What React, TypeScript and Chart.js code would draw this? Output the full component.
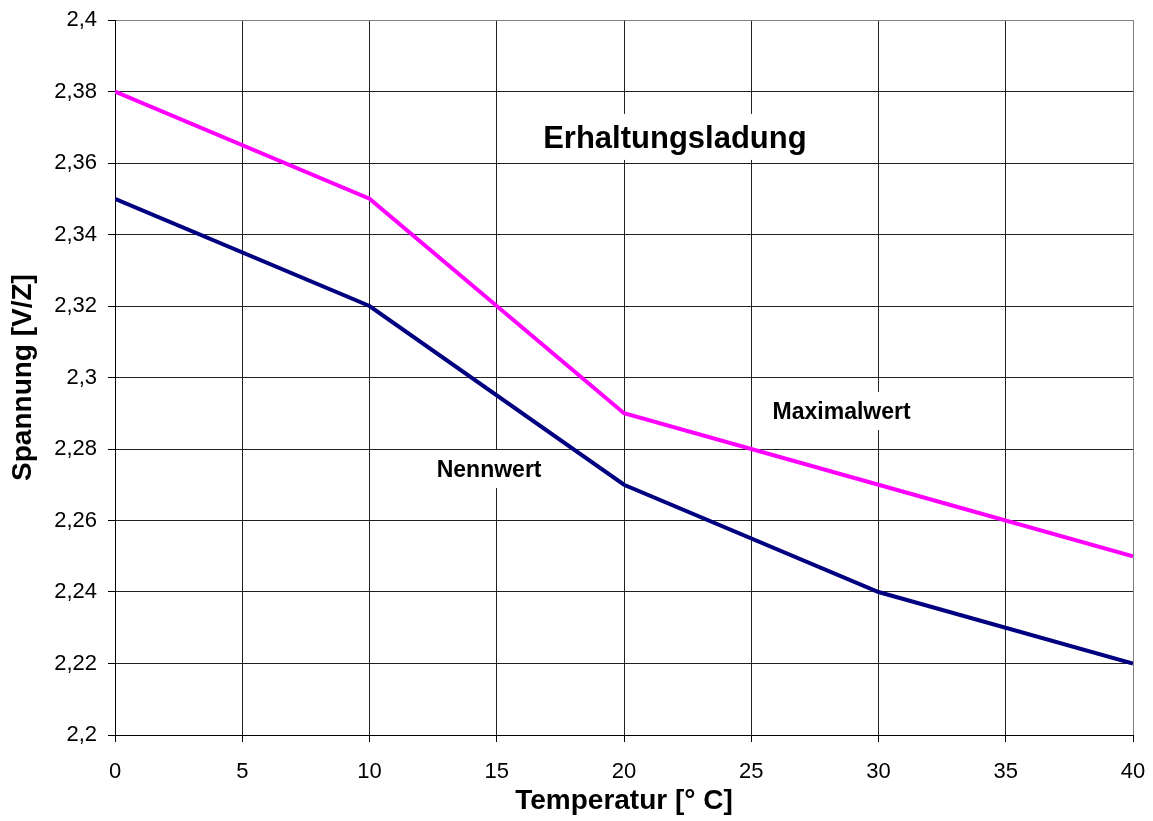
import React, { useEffect, useRef } from "react";
import { Chart, registerables } from "chart.js";

Chart.register(...registerables);

const temperatures = [0, 10, 20, 30, 40];
const maximalwert = [2.38, 2.35, 2.29, 2.27, 2.25];
const nennwert = [2.35, 2.32, 2.27, 2.24, 2.22];

const xTicks = [0, 5, 10, 15, 20, 25, 30, 35, 40];
const xTickLabels = ["0", "5", "10", "15", "20", "25", "30", "35", "40"];
const yTicks = [2.2, 2.22, 2.24, 2.26, 2.28, 2.3, 2.32, 2.34, 2.36, 2.38, 2.4];
const yTickLabels = ["2,2", "2,22", "2,24", "2,26", "2,28", "2,3", "2,32", "2,34", "2,36", "2,38", "2,4"];

const chartTitle = "Erhaltungsladung";
const xTitle = "Temperatur [° C]";
const yTitle = "Spannung [V/Z]";
const seriesNames = ["Maximalwert", "Nennwert"];

const FONT = "'Liberation Sans', Arial, Helvetica, sans-serif";

type Note = { text: string; x: number; y: number; size: number; boxH: number; padX: number };

const notes: Note[] = [
  { text: chartTitle, x: 22, y: 2.3673, size: 31, boxH: 46, padX: 10 },
  { text: seriesNames[0], x: 28.55, y: 2.2906, size: 23, boxH: 38, padX: 8 },
  { text: seriesNames[1], x: 14.7, y: 2.2744, size: 23, boxH: 38, padX: 8 },
];

const notesPlugin = {
  id: "notes",
  afterDatasetsDraw(chart: any) {
    const { ctx, scales } = chart;
    const xs = scales.x;
    const ys = scales.y;
    ctx.save();
    for (const n of notes) {
      const cx = xs.getPixelForValue(n.x);
      const cy = ys.getPixelForValue(n.y);
      ctx.font = `bold ${n.size}px ${FONT}`;
      const w = ctx.measureText(n.text).width;
      ctx.fillStyle = "#ffffff";
      ctx.fillRect(cx - w / 2 - n.padX, cy - n.boxH / 2, w + 2 * n.padX, n.boxH);
      ctx.fillStyle = "#000000";
      ctx.textAlign = "center";
      ctx.textBaseline = "alphabetic";
      ctx.fillText(n.text, cx, cy + 0.358 * n.size);
    }
    ctx.restore();
  },
};

export default function App() {
  const canvasRef = useRef<HTMLCanvasElement | null>(null);

  useEffect(() => {
    if (!canvasRef.current) return;
    const chart = new Chart(canvasRef.current, {
      type: "line",
      data: {
        datasets: [
          {
            label: seriesNames[0],
            data: temperatures.map((t, i) => ({ x: t, y: maximalwert[i] })),
            borderColor: "#FF00FF",
            backgroundColor: "#FF00FF",
            borderWidth: 4,
            pointRadius: 0,
            tension: 0,
          },
          {
            label: seriesNames[1],
            data: temperatures.map((t, i) => ({ x: t, y: nennwert[i] })),
            borderColor: "#000080",
            backgroundColor: "#000080",
            borderWidth: 4,
            pointRadius: 0,
            tension: 0,
          },
        ],
      },
      options: {
        animation: false,
        responsive: true,
        maintainAspectRatio: false,
        layout: { padding: { left: 0, top: 20, right: 20, bottom: 0 } },
        plugins: {
          legend: { display: false },
          tooltip: { enabled: false },
        },
        scales: {
          x: {
            type: "linear",
            min: 0,
            max: 40,
            afterBuildTicks: (s: any) => {
              s.ticks = xTicks.map((v) => ({ value: v }));
            },
            afterFit: (s: any) => {
              s.height = 86;
              s.paddingLeft = 0;
              s.paddingRight = 0;
            },
            ticks: {
              autoSkip: false,
              maxRotation: 0,
              padding: 17,
              color: "#000",
              font: { family: FONT, size: 22 },
              callback: (_v: any, i: number) => xTickLabels[i],
            },
            grid: {
              color: (c: any) => (c.tick && c.tick.value === 40 ? "#808080" : "#222"),
              lineWidth: 1,
              tickLength: 7,
              tickColor: "#000",
            },
            border: { color: "#000", width: 1 },
            title: {
              display: true,
              text: xTitle,
              color: "#000",
              font: { family: FONT, size: 28, weight: "bold" },
              padding: { top: 3, bottom: 3 },
            },
          },
          y: {
            type: "linear",
            min: 2.2,
            max: 2.4,
            afterBuildTicks: (s: any) => {
              s.ticks = yTicks.map((v) => ({ value: v }));
            },
            afterFit: (s: any) => {
              s.width = 115;
              s.paddingTop = 0;
              s.paddingBottom = 0;
            },
            ticks: {
              autoSkip: false,
              padding: 11,
              color: "#000",
              font: { family: FONT, size: 22 },
              callback: (_v: any, i: number) => yTickLabels[i],
            },
            grid: {
              color: (c: any) => (c.tick && Math.abs(c.tick.value - 2.4) < 1e-9 ? "#808080" : "#222"),
              lineWidth: 1,
              tickLength: 7,
              tickColor: "#000",
            },
            border: { color: "#000", width: 1 },
            title: {
              display: true,
              text: yTitle,
              color: "#000",
              font: { family: FONT, size: 28, weight: "bold" },
              padding: { top: 6, bottom: 6 },
            },
          },
        },
      },
      plugins: [notesPlugin],
    } as any);
    return () => chart.destroy();
  }, []);

  return (
    <div style={{ position: "absolute", left: 0, top: 0, width: 1153, height: 821, background: "#fff" }}>
      <canvas ref={canvasRef} />
    </div>
  );
}
